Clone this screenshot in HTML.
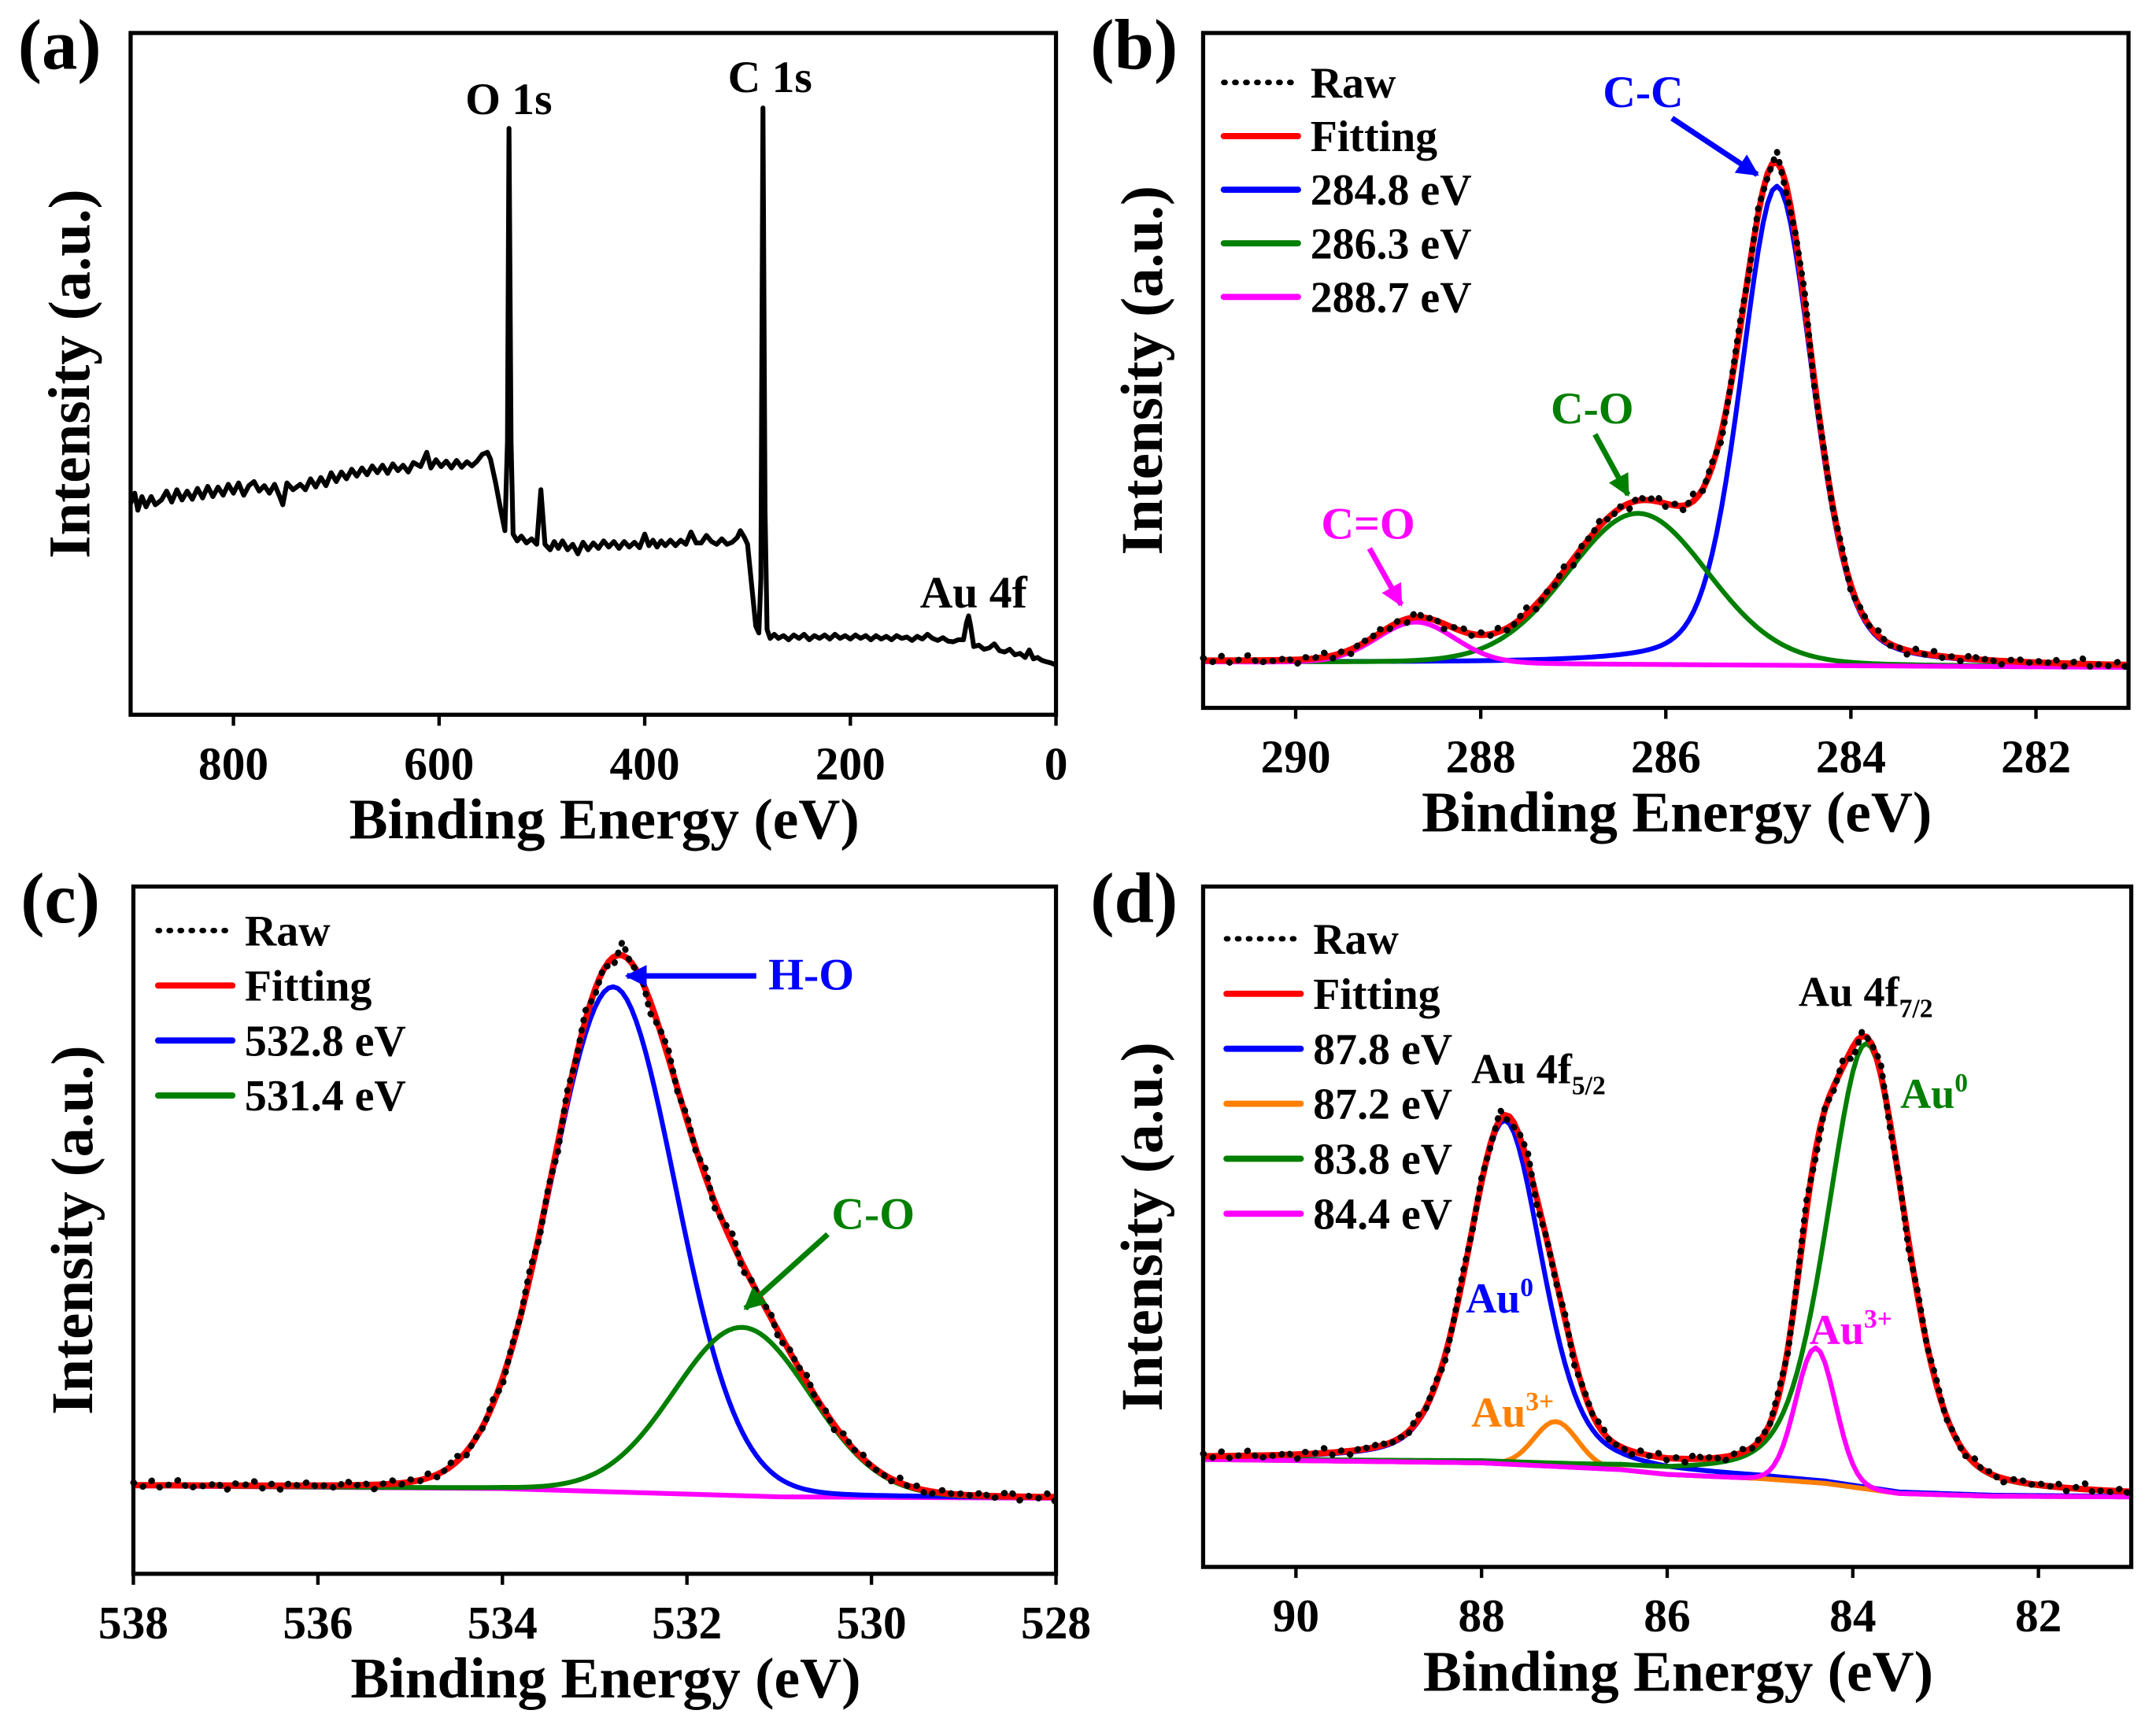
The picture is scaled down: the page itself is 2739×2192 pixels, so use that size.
<!DOCTYPE html>
<html><head><meta charset="utf-8"><style>
html,body{margin:0;padding:0;background:#fff;}
svg{display:block;font-family:"Liberation Serif",serif;font-weight:bold;}
</style></head><body>
<svg id="fig" width="2739" height="2192" viewBox="0 0 1568 1255" preserveAspectRatio="none" xmlns="http://www.w3.org/2000/svg">
<defs>
<marker id="ahB" viewBox="0 0 10 10" refX="9" refY="5" markerWidth="4" markerHeight="4" orient="auto"><path d="M0,0L10,5L0,10z" fill="#0000ff"/></marker>
<marker id="ahG" viewBox="0 0 10 10" refX="9" refY="5" markerWidth="4" markerHeight="4" orient="auto"><path d="M0,0L10,5L0,10z" fill="#007f00"/></marker>
<marker id="ahM" viewBox="0 0 10 10" refX="9" refY="5" markerWidth="4" markerHeight="4" orient="auto"><path d="M0,0L10,5L0,10z" fill="#ff00ff"/></marker>
</defs>
<g id="root"></g>
</svg>
<script>
// ---------- data ----------
const surveyPts = [[900,31],[896,32.5],[893,30],[889,32],[885,30.5],[880,32],[876,30.8],[870,31.5],[865,32.8],[860,31.2],[855,33],[850,31.5],[845,32.8],[840,31.6],[835,33.2],[830,31.8],[825,33.5],[820,32],[815,33.4],[810,32.2],[805,33.8],[800,32.5],[795,34],[790,32.2],[785,33.6],[780,34.2],[775,32.8],[770,33.6],[765,32.5],[760,33.8],[755,32],[752,30.8],[748,34],[742,33],[735,33.8],[730,33],[725,34.6],[720,33.4],[715,34.8],[710,33.6],[705,35.5],[700,34.2],[695,35.6],[690,34.6],[685,36],[680,35],[675,36.2],[670,35.2],[665,36.5],[660,35.5],[655,36.6],[650,35.4],[645,36.8],[640,35.8],[635,36.6],[630,35.6],[625,37],[618,36.4],[612,38.5],[608,36.2],[603,37.4],[598,36.4],[593,37.2],[588,36.2],[583,37.3],[578,36.3],[573,37.1],[568,36.5],[563,37.2],[558,38.2],[553,38.5],[550,37.5],[545,34],[540,30],[536,27],[533.5,40],[532,86],[530,40],[528,26.5],[524,25.5],[520,26.2],[515,25.2],[510,25.8],[505,25],[501,33],[497,25],[492,24.2],[488,25.4],[484,24.4],[480,25.5],[475,24.2],[470,25],[465,23.6],[460,25.3],[455,24.2],[450,25.2],[445,24.4],[440,25.5],[435,24.6],[430,25.4],[425,24.4],[420,25.4],[415,24.6],[410,25.3],[405,24.5],[400,26.5],[396,24.8],[392,25.6],[388,24.6],[384,25.5],[380,24.8],[375,25.6],[370,24.8],[365,25.6],[360,25],[355,26.8],[350,25.2],[345,25.2],[340,26.3],[335,25.4],[330,25],[325,25.8],[320,25],[315,25.3],[310,26],[307,27],[303,26],[300,25],[296,19],[292,13],[289,12],[287,20],[285,89],[283,30],[281,12.5],[278,11.2],[274,11.8],[270,11.2],[265,11.6],[260,11],[255,11.7],[250,11.2],[245,11.8],[240,11],[235,11.6],[230,11.2],[225,11.7],[220,11.1],[215,11.8],[210,11.2],[205,11.6],[200,11.1],[195,11.7],[190,11.2],[185,11.6],[180,11],[175,11.6],[170,11.1],[165,11.5],[160,11],[155,11.6],[150,11.2],[145,11.4],[140,10.9],[135,11.5],[130,11.1],[125,11.8],[120,11.2],[115,10.9],[110,11.3],[105,10.8],[100,10.7],[95,11],[90,11],[87,13.5],[85,14.5],[83,13],[80,10],[75,10.2],[70,9.6],[65,9.8],[60,10.4],[55,9.4],[50,9.2],[45,9.6],[40,8.8],[35,9],[30,8.4],[26,9.5],[22,8.2],[18,8.4],[14,8],[10,7.8],[5,7.6],[0,7.3]];
const surveyTicks = [800,600,400,200,0];

const cCenters = [284.8, 286.3, 288.7];
const cHeights = [71, 22.4, 6.1];
const cFwhm = [0.92, 1.8, 1.0];
const cEta = [0.3, 0.1, 0.1];
const cBg = [[291,6.8],[281,6.0]];
const cTicks = [290,288,286,284,282];

const oCenters = [532.8, 531.4];
const oHeights = [73.5, 24.5];
const oFwhm = [1.6, 1.75];
const oEta = [0.05, 0.05];
const oBg = [[538,12.8],[534,12.4],[531,11.2],[528,11.0]];
const oTicks = [538,536,534,532,530,528];

const auCenters = [87.75, 87.2, 83.85, 84.4];
const auHeights = [50.5, 6.6, 65.5, 19.8];
const auFwhm = [0.95, 0.55, 1.0, 0.5];
const auEta = [0.35, 0.0, 0.35, 0.0];
const auBg = [[91,15.8],[88,15.3],[86.5,14.3],[86,13.6],[85,13],[84.3,12.3],[83.5,10.8],[82.5,10.4],[81,10.3]];
const auTicks = [90,88,86,84,82];

const rawDev = [0.6,-0.4,1.1,-0.8,0.3,1.4,-1.0,0.2,-0.5,0.9,-1.3,0.5,0.0,1.2,-0.7,0.4,-1.1,0.8,-0.2,1.0,-0.6,0.3,-0.9,1.3,-0.3,0.7,-1.2,0.1,0.9,-0.4];

// ---------- drawing ----------
const NS = "http://www.w3.org/2000/svg";
const root = document.getElementById('root');
function el(tag, attrs, parent, txt){
  const e = document.createElementNS(NS, tag);
  for (const k in attrs) e.setAttribute(k, attrs[k]);
  if (txt !== undefined) e.textContent = txt;
  (parent||root).appendChild(e);
  return e;
}
function pv(x,c,h,w,eta){
  const d=(x-c)/(w/2);
  return h*(eta/(1+d*d)+(1-eta)*Math.exp(-Math.LN2*d*d));
}
function bgAt(bg,x){
  for(let i=0;i<bg.length-1;i++){
    const a=bg[i],b=bg[i+1];
    if((x<=a[0]&&x>=b[0])){const t=(a[0]-x)/(a[0]-b[0]);return a[1]+t*(b[1]-a[1]);}
  }
  return bg[bg.length-1][1];
}
function makePanel(P){
  const g = el('g',{},root);
  
  
  const X = v => P.x0 + (P.xmax - v)/(P.xmax - P.xmin)*(P.x1-P.x0);
  const Y = v => P.y1 - v/100*(P.y1-P.y0);
  P.X=X;P.Y=Y;P.g=g;
  P.ticks.forEach(t=>{
    const tk = el('line',{x1:X(t),x2:X(t),y1:P.y1,y2:P.y1+8,stroke:'#000','stroke-width':2.5},g);
    
    
    const lb = el('text',{x:X(t),y:P.y1+47,'text-anchor':'middle','font-size':34},g,String(t));
    
    
  });
  const xt = el('text',{x:(P.x0+P.x1)/2+8,y:P.y1+90,'text-anchor':'middle','font-size':42},g,'Binding Energy (eV)');
  
  
  const cy=(P.y0+P.y1)/2, cx=P.x0-30;
  const yt = el('text',{x:cx,y:cy,'text-anchor':'middle','font-size':43,transform:`rotate(-90 ${cx} ${cy})`},g,'Intensity (a.u.)');
  
  
  const pl = el('text',{x:P.x0-82,y:P.y0+26,'font-size':52},g,P.label);
  
  
  return P;
}
function frame(P){
  const f = el('rect',{x:P.x0,y:P.y0,width:P.x1-P.x0,height:P.y1-P.y0,fill:'none',stroke:'#000','stroke-width':3},P.g);
  
  
}
function poly(P,pts,color,w,name,dash){
  const d = pts.map((p,i)=>(i?'L':'M')+P.X(p[0]).toFixed(2)+','+P.Y(p[1]).toFixed(2)).join('');
  const a = {d:d,fill:'none',stroke:color,'stroke-width':w,'stroke-linejoin':'round'};
  if(dash){a['stroke-dasharray']=dash;a['stroke-linecap']='round';}
  const p = el('path',a,P.g);
  
  
  return p;
}
function txt(P,x,y,s,color,size,name,anchor){
  const t = el('text',{x:x,y:y,fill:color,'font-size':size,'text-anchor':anchor||'start'},P.g);
  
  
  if(Array.isArray(s)){ s.forEach(part=>{ el('tspan',part[1]?{'font-size':size*0.62,dy:part[1]}:{},t,part[0]); }); }
  else t.textContent=s;
  return t;
}
function arrow(P,x1,y1,x2,y2,color,m,name){
  const a = el('line',{x1,y1,x2,y2,stroke:color,'stroke-width':4,'marker-end':`url(#${m})`},P.g);
  
  
}
function legend(P,x,y,step,items){
  items.forEach((it,i)=>{
    const yy=y+i*step;
    const l = el('line',{x1:x,x2:x+54,y1:yy,y2:yy,stroke:it[1],'stroke-width':it[2]?4:4.5,'stroke-dasharray':it[2]?'1,7':'none','stroke-linecap':'round'},P.g);
    
    
    txt(P,x+63,yy+11,it[0],'#000',32,'legend-entry');
  });
}
function fitPanel(P,centers,heights,fwhm,eta,bg,colors,names,step){
  const comps = centers.map(()=>[]), fit=[], raw=[];
  let k=0;
  for(let x=P.xmax;x>=P.xmin-1e-9;x-=step){
    const b=bgAt(bg,x); let s=b;
    centers.forEach((c,i)=>{const v=pv(x,c,heights[i],fwhm[i],eta[i]); comps[i].push([x,b+v]); s+=v;});
    fit.push([x,s]);
    if(k%2===0) raw.push([x,s+rawDev[(k/2)%rawDev.length]*0.6*(1+0.02*(s-b))]);
    k++;
  }
  comps.forEach((c,i)=>poly(P,c,colors[i],3.5,names[i]));
  poly(P,fit,'#ff0000',4.5,'fitting-curve');
  poly(P,raw,'#000',4.5,'raw-data','0.5,7');
}

const A = makePanel({name:'panel-a-survey',label:'(a)',x0:95,x1:768,y0:24,y1:520,xmin:0,xmax:900,ticks:surveyTicks});
poly(A,surveyPts,'#000',3.5,'survey-spectrum');
txt(A,370,83,'O 1s','#000',33,'peak-label-o1s','middle');
txt(A,560,67,'C 1s','#000',33,'peak-label-c1s','middle');
txt(A,708,442,'Au 4f','#000',33,'peak-label-au4f','middle');
frame(A);

const B = makePanel({name:'panel-b-c1s',label:'(b)',x0:875,x1:1548,y0:24,y1:515,xmin:281,xmax:291,ticks:cTicks});
fitPanel(B,cCenters,cHeights,cFwhm,cEta,cBg,['#0000ff','#007f00','#ff00ff'],['peak-284-8','peak-286-3','peak-288-7'],0.05);
legend(B,890,60,39,[['Raw','#000',1],['Fitting','#ff0000'],['284.8 eV','#0000ff'],['286.3 eV','#007f00'],['288.7 eV','#ff00ff']]);
txt(B,1195,78,'C-C','#0000ff',33,'annot-c-c','middle');
arrow(B,1216,86,1278,127,'#0000ff','ahB','arrow-c-c');
txt(B,1158,308,'C-O','#007f00',33,'annot-c-o','middle');
arrow(B,1160,316,1184,360,'#007f00','ahG','arrow-c-o');
txt(B,995,392,'C=O','#ff00ff',33,'annot-c-eq-o','middle');
arrow(B,996,399,1019,440,'#ff00ff','ahM','arrow-c-eq-o');
frame(B);

const C = makePanel({name:'panel-c-o1s',label:'(c)',x0:97,x1:768,y0:645,y1:1145,xmin:528,xmax:538,ticks:oTicks});
poly(C,oBg,'#ff00ff',3.5,'baseline');
fitPanel(C,oCenters,oHeights,oFwhm,oEta,oBg,['#0000ff','#007f00'],['peak-532-8','peak-531-4'],0.05);
legend(C,115,677,40,[['Raw','#000',1],['Fitting','#ff0000'],['532.8 eV','#0000ff'],['531.4 eV','#007f00']]);
txt(C,590,720,'H-O','#0000ff',33,'annot-h-o','middle');
arrow(C,550,710,456,710,'#0000ff','ahB','arrow-h-o');
txt(C,635,894,'C-O','#007f00',33,'annot-c-o','middle');
arrow(C,602,898,542,952,'#007f00','ahG','arrow-c-o');
frame(C);

const D = makePanel({name:'panel-d-au4f',label:'(d)',x0:875,x1:1550,y0:645,y1:1140,xmin:81,xmax:91,ticks:auTicks});
poly(D,auBg,'#7030e0',3.5,'baseline');
fitPanel(D,auCenters,auHeights,auFwhm,auEta,auBg,['#0000ff','#ff8000','#007f00','#ff00ff'],['peak-87-8','peak-87-2','peak-83-8','peak-84-4'],0.05);
legend(D,892,683,40,[['Raw','#000',1],['Fitting','#ff0000'],['87.8 eV','#0000ff'],['87.2 eV','#ff8000'],['83.8 eV','#007f00'],['84.4 eV','#ff00ff']]);
txt(D,1308,732,[['Au 4f'],['7/2','8']],'#000',31,'annot-au4f72');
txt(D,1070,788,[['Au 4f'],['5/2','8']],'#000',31,'annot-au4f52');
txt(D,1382,806,[['Au'],['0','-12']],'#007f00',31,'annot-au0-green');
txt(D,1066,955,[['Au'],['0','-12']],'#0000ff',31,'annot-au0-blue');
txt(D,1316,978,[['Au'],['3+','-12']],'#ff00ff',31,'annot-au3-magenta');
txt(D,1070,1038,[['Au'],['3+','-12']],'#ff8000',31,'annot-au3-orange');
frame(D);
</script>
</body></html>
